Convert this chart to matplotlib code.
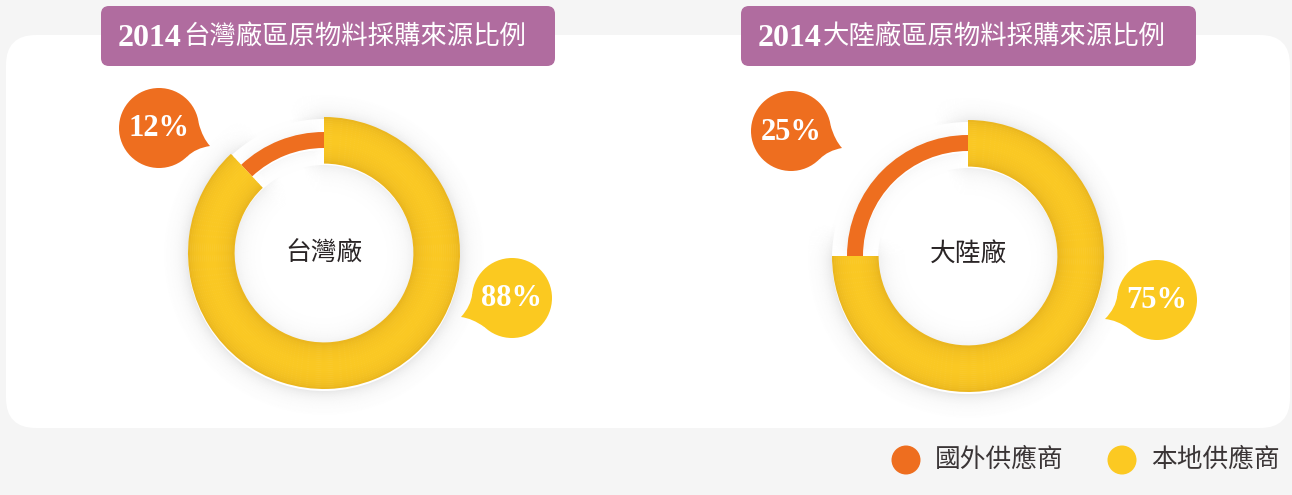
import numpy as np
import matplotlib
matplotlib.use("Agg")
import matplotlib.pyplot as plt
from matplotlib.patches import FancyBboxPatch, Circle, Wedge, PathPatch
from matplotlib.path import Path

# ---------------- data ----------------
categories = ["國外供應商", "本地供應商"]
plants = ["台灣廠", "大陸廠"]
titles_year = ["2014", "2014"]
titles_text = ["台灣廠區原物料採購來源比例", "大陸廠區原物料採購來源比例"]
taiwan_values = [12, 88]
mainland_values = [25, 75]
pct_labels_taiwan = ["12%", "88%"]
pct_labels_mainland = ["25%", "75%"]

# ---------------- style ----------------
ORANGE = "#ee6e1f"
YELLOW = "#fac823"
YELLOW_DARK = "#e4b01e"
PURPLE = "#b06c9f"
BG = "#f5f5f5"
TEXT_DARK = "#2a2526"
CJK = ["Noto Sans CJK TC", "DejaVu Sans"]
SERIF = ["Liberation Serif", "DejaVu Serif"]

W, H = 1292, 495
fig = plt.figure(figsize=(W / 100, H / 100), dpi=100)
fig.patch.set_facecolor(BG)
ax = fig.add_axes([0, 0, 1, 1])
ax.set_autoscale_on(False)
ax.set_xlim(0, W)
ax.set_ylim(H, 0)
ax.axis("off")

# white panel
ax.add_patch(FancyBboxPatch((6 + 30, 35 + 30), 1284 - 60, 393 - 60,
                            boxstyle="round,pad=30", fc="white", ec="none", zorder=0))


def ring_with_taper(center, r, th1, th2, alpha, taper=12):
    ax.add_patch(Wedge(center, r, th1, th2, width=1.0, fc="black", ec="none",
                       alpha=alpha, zorder=1))
    for j in range(taper):
        aj = alpha * (1 - (j + 0.5) / taper)
        ax.add_patch(Wedge(center, r, th1 - j - 1, th1 - j, width=1.0, fc="black",
                           ec="none", alpha=aj, zorder=1))
        ax.add_patch(Wedge(center, r, th2 + j, th2 + j + 1, width=1.0, fc="black",
                           ec="none", alpha=aj, zorder=1))


def arc_shadow(cx, cy, r_out, r_in, th1, th2, peak_out, peak_in, spread_out, spread_in,
               taper=12):
    c = (cx, cy + 2)
    n = int(spread_out * 3)
    for i in range(n):
        ring_with_taper(c, r_out + i + 1, th1, th2, peak_out * np.exp(-i / spread_out), taper)
    n2 = int(spread_in * 3)
    for i in range(n2):
        if r_in - i - 1 <= 0:
            break
        ring_with_taper(c, r_in - i, th1, th2, peak_in * np.exp(-i / spread_in), taper)


def mix(c1, c2, f):
    c1 = np.array(matplotlib.colors.to_rgb(c1))
    c2 = np.array(matplotlib.colors.to_rgb(c2))
    return tuple(c1 * (1 - f) + c2 * f)


def donut(cx, cy, values):
    foreign, local = values
    total = foreign + local
    r_out, r_in = 136, 90
    # angle split (data coords, y inverted: increasing theta = clockwise on screen)
    th_start = -90
    th_split = -90 + 360 * local / total
    th_end = 270
    arc_shadow(cx, cy, r_out, r_in, th_start, th_split, 0.085, 0.06, 8, 9, taper=14)
    arc_shadow(cx, cy, 121, 105, th_split + 6, th_end - 6, 0.04, 0.03, 6, 6, taper=6)
    vals = [local, foreign]
    # orange thin ring
    ax.pie(vals, center=(cx, cy), radius=121, startangle=270, counterclock=True,
           colors=["none", ORANGE], frame=True,
           wedgeprops=dict(width=16, linewidth=0, zorder=2))
    # yellow thick ring with radial shading
    nb = 23
    w = (r_out - r_in) / nb
    for k in range(nb):
        t = 1 - (k + 0.5) / nb
        f = np.sin(np.pi * t) ** 0.45
        col = mix(YELLOW_DARK, YELLOW, f)
        ax.pie(vals, center=(cx, cy), radius=r_out - k * w, startangle=270,
               counterclock=True, colors=[col, "none"], frame=True,
               wedgeprops=dict(width=w + 0.6, linewidth=0, zorder=3))


def bubble(cx, cy, tip, color, label):
    r = 40
    tx, ty = tip
    a = np.arctan2(ty - cy, tx - cx)
    s = np.deg2rad(26)
    p1 = (cx + r * np.cos(a - s), cy + r * np.sin(a - s))
    p2 = (cx + r * np.cos(a + s), cy + r * np.sin(a + s))
    q1 = (cx + 1.12 * r * np.cos(a - s * 0.25), cy + 1.12 * r * np.sin(a - s * 0.25))
    q2 = (cx + 1.05 * r * np.cos(a + s * 0.35), cy + 1.05 * r * np.sin(a + s * 0.35))
    verts = [(cx, cy), p1, q1, (tx, ty), q2, p2, (cx, cy), (cx, cy)]
    codes = [Path.MOVETO, Path.LINETO, Path.CURVE3, Path.CURVE3, Path.CURVE3,
             Path.CURVE3, Path.LINETO, Path.CLOSEPOLY]
    ax.add_patch(PathPatch(Path(verts, codes), fc=color, ec="none", zorder=5))
    ax.add_patch(Circle((cx, cy), r, fc=color, ec="none", zorder=5))
    ax.text(cx, cy + 1, label, color="white", fontsize=22, fontweight="bold",
            family=SERIF, ha="center", va="center", zorder=6)


def title_box(x0, x1, year, text):
    ax.add_patch(FancyBboxPatch((x0 + 8, 6 + 8), x1 - x0 - 16, 60 - 16,
                                boxstyle="round,pad=8", fc=PURPLE, ec="none", zorder=4))
    ax.text(x0 + 17, 38, year, color="white", fontsize=23, fontweight="bold",
            family=SERIF, ha="left", va="center", zorder=5)
    ax.text(x0 + 82, 37, text, color="white", fontsize=19, family=CJK,
            ha="left", va="center", zorder=5)


# Taiwan
title_box(101, 555, titles_year[0], titles_text[0])
donut(324, 253, taiwan_values)
ax.text(324, 254, plants[0], color=TEXT_DARK, fontsize=18.5, family=CJK,
        ha="center", va="center", zorder=6)
bubble(159, 128, (210, 146), ORANGE, pct_labels_taiwan[0])
bubble(512, 298, (461, 317), "#fbc920", pct_labels_taiwan[1])

# Mainland
title_box(741, 1196, titles_year[1], titles_text[1])
donut(968, 256, mainland_values)
ax.text(968, 255, plants[1], color=TEXT_DARK, fontsize=18.5, family=CJK,
        ha="center", va="center", zorder=6)
bubble(791, 131, (842, 148), ORANGE, pct_labels_mainland[0])
bubble(1157, 300, (1105, 319), "#fbc920", pct_labels_mainland[1])

# legend
leg_cols = [ORANGE, "#fcc922"]
leg_x = [906, 1122]
for name, col, x in zip(categories, leg_cols, leg_x):
    ax.add_patch(Circle((x, 460), 14.5, fc=col, ec="none", zorder=5))
    ax.text(x + 29, 460, name, color="#3a3536", fontsize=18.5, family=CJK,
            ha="left", va="center", zorder=5)

ax.set_xlim(0, W)
ax.set_ylim(H, 0)
ax.set_aspect("auto")
fig.savefig("out.png", dpi=100, facecolor=BG)
